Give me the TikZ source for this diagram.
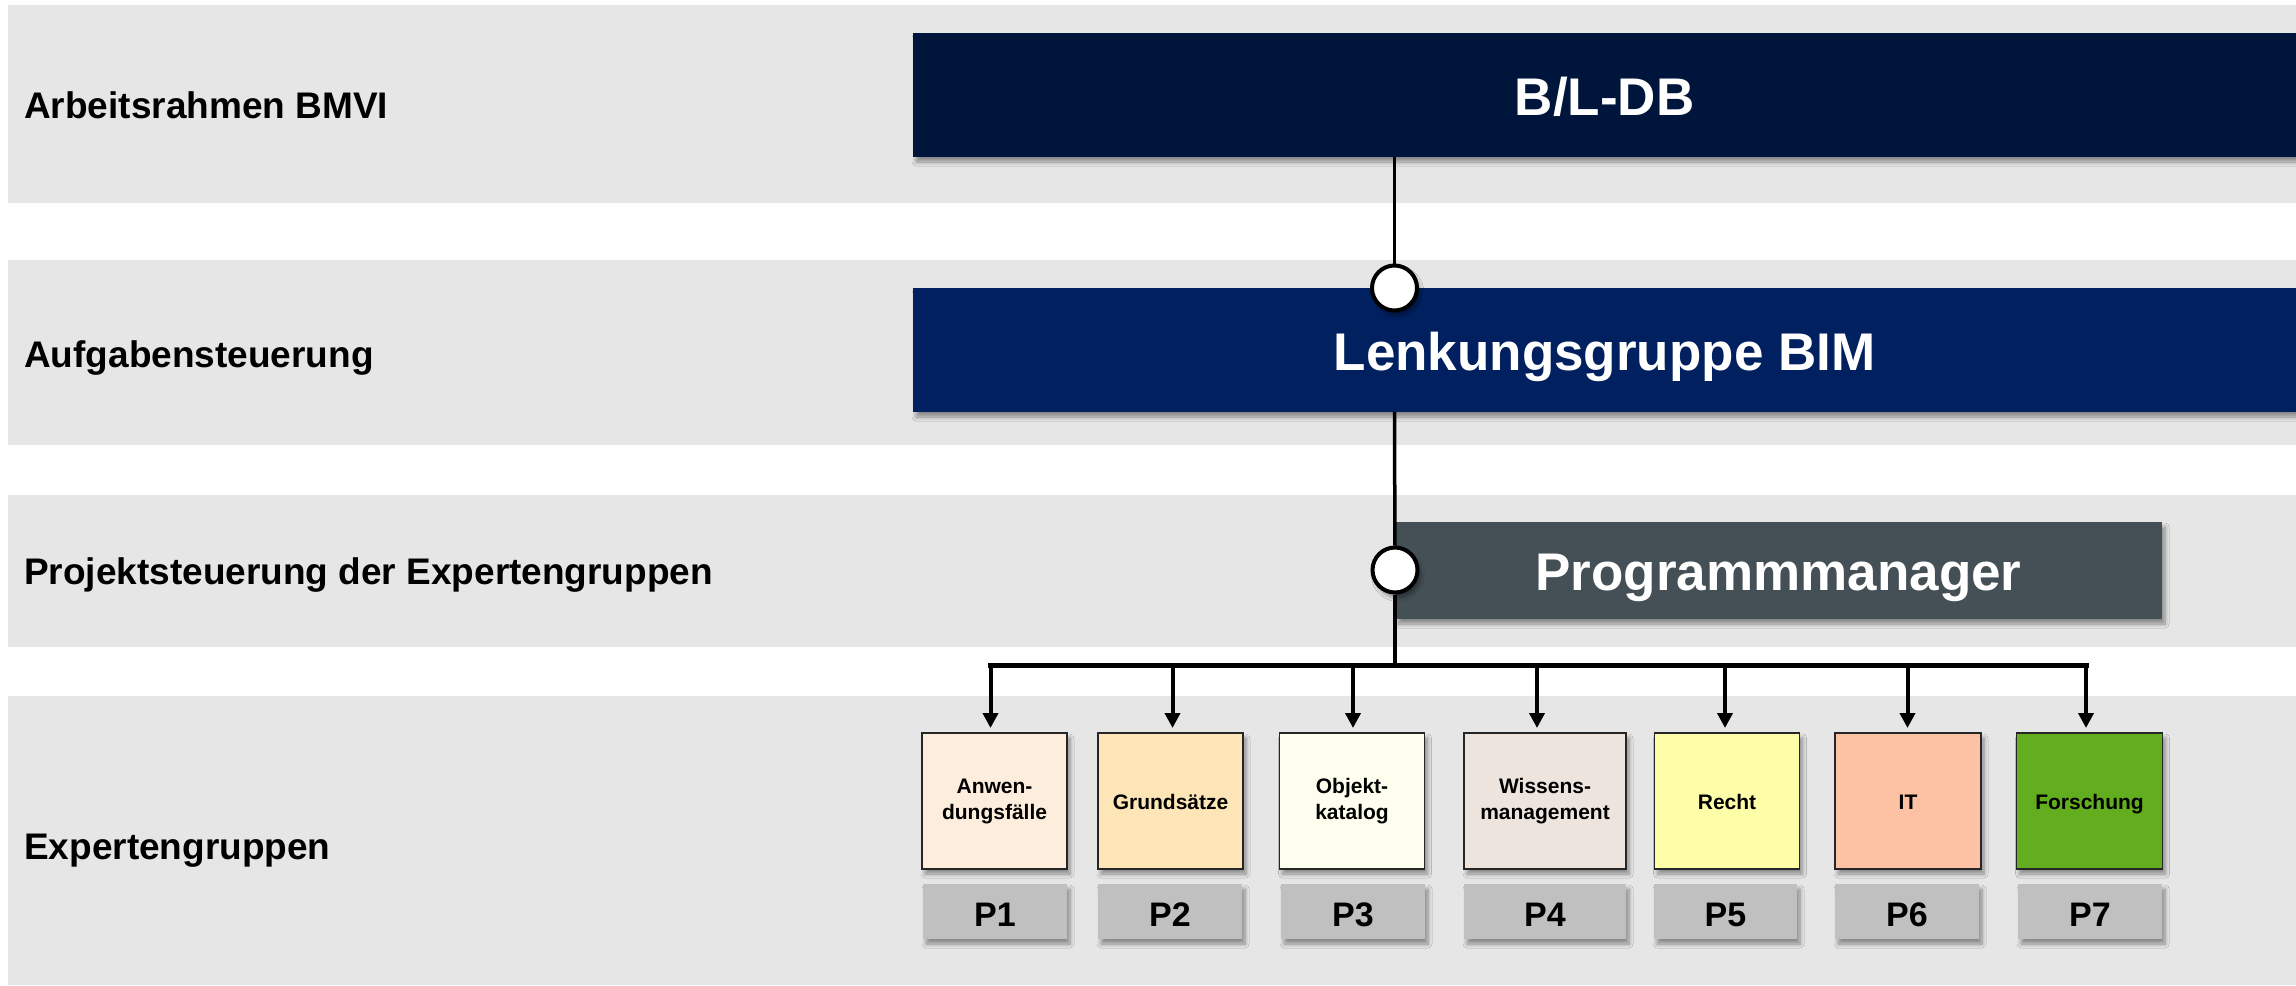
\documentclass[tikz,border=0pt]{standalone}
\usepackage{fontspec}
\setmainfont{Liberation Sans}
\usetikzlibrary{arrows.meta,shadows.blur,calc}

\definecolor{bandgray}{RGB}{230,230,230}
\definecolor{navydark}{RGB}{0,21,60}
\definecolor{navy}{RGB}{0,32,96}
\definecolor{slate}{RGB}{68,79,86}
\definecolor{pgray}{RGB}{192,192,192}
\definecolor{grpA}{RGB}{253,237,220}
\definecolor{grpB}{RGB}{253,229,183}
\definecolor{grpC}{RGB}{254,254,238}
\definecolor{grpD}{RGB}{237,228,222}
\definecolor{grpE}{RGB}{254,253,168}
\definecolor{grpF}{RGB}{253,193,163}
\definecolor{grpG}{RGB}{99,174,31}

\begin{document}
\begin{tikzpicture}[x=1pt,y=-1pt,
  shd/.style={blur shadow={shadow xshift=3pt,shadow yshift=-5pt,shadow blur radius=4pt,shadow blur steps=8}},
  band/.style={rectangle,fill=bandgray,draw=none,inner sep=0pt,outer sep=0pt,anchor=north west},
  lbl/.style={anchor=base west,inner sep=0pt,font=\bfseries\fontsize{37pt}{44pt}\selectfont},
  bigbox/.style={rectangle,shd,draw=none,inner sep=0pt,outer sep=0pt,text=white,
    text height=40pt,text depth=0pt,font=\bfseries\fontsize{53pt}{64pt}\selectfont},
  grp/.style={rectangle,shd,draw=black!85,line width=1.5pt,outer sep=0pt,align=center,
    minimum height=136pt,font=\bfseries\fontsize{21pt}{26pt}\selectfont},
  oneline/.style={text height=16pt,text depth=0pt},
  pbox/.style={rectangle,shd,fill=pgray,draw=none,outer sep=0pt,minimum height=55pt,
    text height=29pt,text depth=0pt,font=\bfseries\fontsize{34pt}{40pt}\selectfont},
  dot/.style={circle,shd,fill=white,draw=black,line width=4pt,minimum size=45pt,inner sep=0pt},
  conn/.style={draw=black,line width=3.5pt},
  busline/.style={draw=black,line width=5pt,line cap=rect},
  arr/.style={draw=black,line width=4pt,-{Triangle[width=15pt,length=15pt]},shorten >=5pt}
]
\useasboundingbox (0,0) rectangle (2296,985);
\fill[white] (0,0) rectangle (2296,985);

% horizontal level bands
\node[band,minimum width=2288pt,minimum height=198pt] (band1) at (8,5) {};
\node[band,minimum width=2288pt,minimum height=185pt] (band2) at (8,260) {};
\node[band,minimum width=2288pt,minimum height=152pt] (band3) at (8,495) {};
\node[band,minimum width=2288pt,minimum height=289pt] (band4) at (8,696) {};

% level names
\node[lbl] (l1) at (24,118.3) {Arbeitsrahmen BMVI};
\node[lbl] (l2) at (24,367.5) {Aufgabensteuerung};
\node[lbl] (l3) at (24,584) {Projektsteuerung der Expertengruppen};
\node[lbl] (l4) at (24,859) {Expertengruppen};

% governing bodies
\node[bigbox,fill=navydark,minimum width=1383pt,minimum height=124pt] (bldb) at (1604.5,95) {B/L-DB};
\node[bigbox,fill=navy,minimum width=1383pt,minimum height=124pt] (lenk) at (1604.5,350) {Lenkungsgruppe BIM};
\node[bigbox,fill=slate,minimum width=767pt,minimum height=97pt] (pm) at (1778.5,570.5) {Programmmanager};

% expert groups
\node[grp,fill=grpA,minimum width=145pt] (b1) at (994.5,801) {Anwen-\\dungsfälle};
\node[grp,fill=grpB,minimum width=145pt,oneline] (b2) at (1170.5,801) {Grundsätze};
\node[grp,fill=grpC,minimum width=145pt] (b3) at (1352,801) {Objekt-\\katalog};
\node[grp,fill=grpD,minimum width=162pt] (b4) at (1545,801) {Wissens-\\management};
\node[grp,fill=grpE,minimum width=145pt,oneline] (b5) at (1727,801) {Recht};
\node[grp,fill=grpF,minimum width=146pt,oneline] (b6) at (1908,801) {IT};
\node[grp,fill=grpG,minimum width=146pt,oneline] (b7) at (2089.5,801) {Forschung};

% project numbers
\node[pbox,minimum width=144pt] (p1) at (995,911.5) {P1};
\node[pbox,minimum width=144pt] (p2) at (1170,911.5) {P2};
\node[pbox,minimum width=144pt] (p3) at (1353,911.5) {P3};
\node[pbox,minimum width=162pt] (p4) at (1545,911.5) {P4};
\node[pbox,minimum width=143pt] (p5) at (1725.5,911.5) {P5};
\node[pbox,minimum width=144pt] (p6) at (1907,911.5) {P6};
\node[pbox,minimum width=144pt] (p7) at (2090,911.5) {P7};

% junction circles
\node[dot] (c1) at (1394.5,288) {};
\node[dot] (c2) at (1395,570) {};

% reporting line
\draw[conn] (c1 |- bldb.south) -- (c1);
\draw[conn] (c1 |- lenk.south) -- (c2);
\coordinate (bus) at (1395,665);
\draw[conn] (c2) -- (bus);

% distribution to the expert groups
\coordinate (a1) at ([xshift=-4pt]b1.north);
\coordinate (a2) at ([xshift=2pt]b2.north);
\coordinate (a3) at ([xshift=1pt]b3.north);
\coordinate (a4) at ([xshift=-8pt]b4.north);
\coordinate (a5) at ([xshift=-2pt]b5.north);
\coordinate (a6) at ([xshift=-0.5pt]b6.north);
\coordinate (a7) at ([xshift=-3.5pt]b7.north);
\draw[busline] (a1 |- bus) -- (a7 |- bus);
\foreach \i in {1,...,7}{
  \draw[arr] (a\i |- bus) -- (a\i);
}
\end{tikzpicture}
\end{document}
